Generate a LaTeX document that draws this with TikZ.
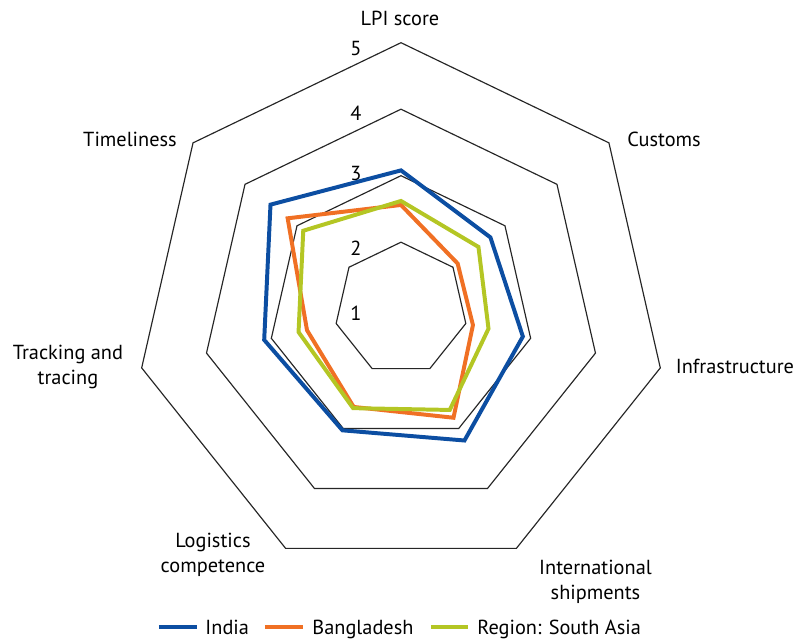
\documentclass[tikz,border=0pt]{standalone}
\usepackage{fontspec}
\setmainfont{PT Sans}

\definecolor{india}{RGB}{12,78,162}
\definecolor{bangladesh}{RGB}{240,112,36}
\definecolor{southasia}{RGB}{180,198,36}

% one closed series line over the seven axes (values on the 1--5 scale)
\newcommand{\lpiseries}[8]{%
  \draw[series,#1] (90:{#2-1}) -- (90-360/7:{#3-1}) -- (90-2*360/7:{#4-1})
    -- (90-3*360/7:{#5-1}) -- (90-4*360/7:{#6-1}) -- (90-5*360/7:{#7-1})
    -- (90-6*360/7:{#8-1}) -- cycle;}

\begin{document}
\begin{tikzpicture}[
    grid/.style={black!85, line width=0.5pt, line join=miter},
    series/.style={line width=1.7pt, line join=miter},
    axislabel/.style={font=\fontsize{8.7}{10.7}\selectfont, align=center, inner sep=0pt},
    ticklabel/.style={font=\fontsize{8.7}{10.7}\selectfont, inner sep=0pt},
    legendlabel/.style={font=\fontsize{8.7}{10.7}\selectfont, inner sep=0pt, anchor=base west},
  ]
  \useasboundingbox (-6.030,-4.982) rectangle (5.940,4.642);

  % heptagon grid, levels 2 to 5
  \foreach \r in {1,...,4}
    \draw[grid] (90:\r) \foreach \k in {1,...,6} { -- (90-\k*360/7:\r) } -- cycle;

  % level numbers
  \node[ticklabel] (tick1) at (-0.677,-0.07) {1};
  \node[ticklabel] (tick2) at (-0.677,0.91) {2};
  \node[ticklabel] (tick3) at (-0.677,2.04) {3};
  \node[ticklabel] (tick4) at (-0.677,2.94) {4};
  \node[ticklabel] (tick5) at (-0.677,3.92) {5};

  % series
  \lpiseries{india}{3.08}{2.72}{2.88}{3.20}{3.03}{3.11}{3.51}
  \lpiseries{bangladesh}{2.56}{2.09}{2.11}{2.82}{2.64}{2.45}{3.18}
  \lpiseries{southasia}{2.62}{2.49}{2.35}{2.69}{2.66}{2.58}{2.88}

  % axis names
  \node[axislabel] (lpi) at (-0.015,4.367) {LPI score};
  \node[axislabel] (customs) at (3.955,2.552) {Customs};
  \node[axislabel] (infra) at (5.023,-0.862) {Infrastructure};
  \node[axislabel] (intl) at (2.925,-4.11) {International\\shipments};
  \node[axislabel] (logcomp) at (-2.827,-3.70) {Logistics\\competence};
  \node[axislabel] (track) at (-5.008,-0.88) {Tracking and\\tracing};
  \node[axislabel] (timely) at (-4.075,2.552) {Timeliness};

  % legend
  \coordinate (key-india) at (-3.639,-4.784);
  \coordinate (key-bangladesh) at (-2.045,-4.784);
  \coordinate (key-southasia) at (0.451,-4.784);
  \node[legendlabel] (leg-india) at (-2.947,-4.892) {India};
  \node[legendlabel] (leg-bangladesh) at (-1.338,-4.892) {Bangladesh};
  \node[legendlabel] (leg-southasia) at (1.143,-4.892) {Region: South Asia};
  \draw[series,india] (key-india) -- ++(0.571,0);
  \draw[series,bangladesh] (key-bangladesh) -- ++(0.571,0);
  \draw[series,southasia] (key-southasia) -- ++(0.557,0);
\end{tikzpicture}
\end{document}
